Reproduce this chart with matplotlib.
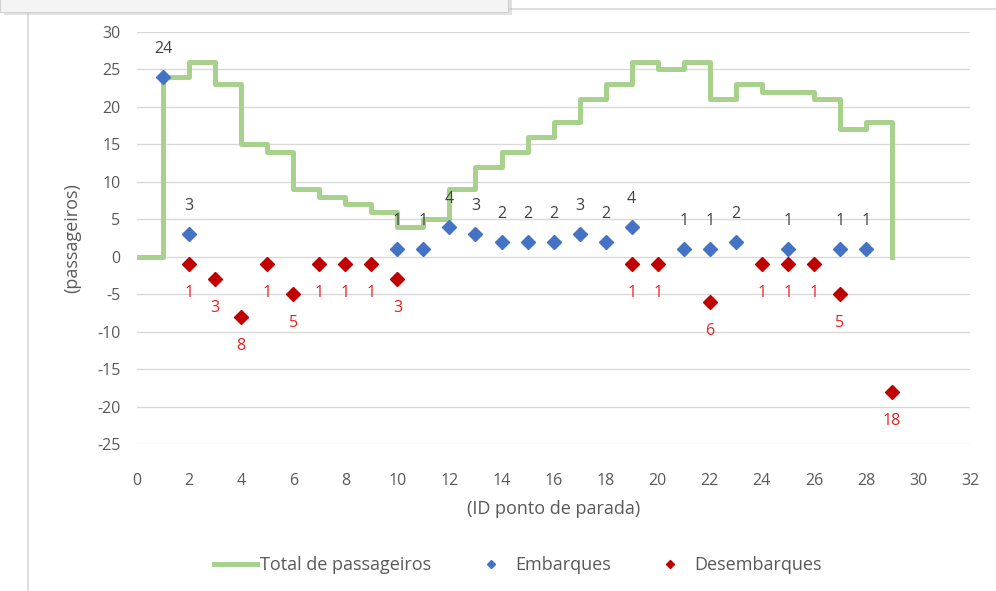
import matplotlib.pyplot as plt
from matplotlib.patches import Rectangle
import numpy as np

# Passenger load along the route: boardings, alightings and running total

paradas_emb = [1, 2, 10, 11, 12, 13, 14, 15, 16, 17, 18, 19, 21, 22, 23, 25, 27, 28]
embarques = [24, 3, 1, 1, 4, 3, 2, 2, 2, 3, 2, 4, 1, 1, 2, 1, 1, 1]

paradas_des = [2, 3, 4, 5, 6, 7, 8, 9, 10, 19, 20, 22, 24, 25, 26, 27, 29]
desembarques = [-1, -3, -8, -1, -5, -1, -1, -1, -3, -1, -1, -6, -1, -1, -1, -5, -18]

paradas_total = list(range(0, 30))
total = [0, 24, 26, 23, 15, 14, 9, 8, 7, 6, 4, 5, 9, 12, 14, 16, 18, 21, 23, 26,
         25, 26, 21, 23, 22, 22, 21, 17, 18, 0]

VERDE = "#A9D18E"
AZUL = "#4472C4"
VINHO = "#C00000"
CINZA_TXT = "#595959"

plt.rcParams['font.family'] = ['Open Sans', 'DejaVu Sans']
plt.rcParams['axes.unicode_minus'] = False

fig = plt.figure(figsize=(9.96, 5.91), dpi=100)
ax = fig.add_axes([0.1376, 0.2487, 0.974 - 0.1376, 0.9459 - 0.2487])

# chart frame + the cut-off box at the top left
fig.patches.append(Rectangle((28 / 996, -0.1), 1.2, 1 - 9 / 591 + 0.1, transform=fig.transFigure,
                             fill=False, edgecolor="#D9D9D9", lw=1.2, zorder=0))
fig.patches.append(Rectangle((4 / 996, 1 - 15 / 591), 508 / 996, 0.1, transform=fig.transFigure,
                             facecolor="#BFBFBF", edgecolor="none", alpha=0.45, zorder=1))
fig.patches.append(Rectangle((0, 1 - 12 / 591), 508 / 996, 0.1, transform=fig.transFigure,
                             facecolor="#F4F4F4", edgecolor="#D0D0D0", lw=0.8, zorder=2))

ax.plot(paradas_total, total, drawstyle="steps-post", color=VERDE, lw=3.6,
        label="Total de passageiros", zorder=2)
ax.plot(paradas_emb, embarques, ls="none", marker="D", ms=7, color=AZUL,
        label="Embarques", zorder=3)
ax.plot(paradas_des, desembarques, ls="none", marker="D", ms=7, color=VINHO,
        label="Desembarques", zorder=3)

for x, v in zip(paradas_emb, embarques):
    ax.annotate(str(v), (x, v), xytext=(0, 20), textcoords="offset points",
                ha="center", va="center", fontsize=11.5, color="#404040")
for x, v in zip(paradas_des, desembarques):
    ax.annotate(str(abs(v)), (x, v), xytext=(0, -21), textcoords="offset points",
                ha="center", va="center", fontsize=11.5, color="#E8201E")

ax.set_xlim(0, 32)
ax.set_ylim(-25, 30)
ax.set_xticks(np.arange(0, 33, 2))
ax.set_yticks(np.arange(-25, 31, 5))
ax.grid(axis="y", color="#D9D9D9", lw=1)
ax.set_axisbelow(True)
for s in ax.spines.values():
    s.set_visible(False)
ax.tick_params(length=0, labelsize=11.5, labelcolor=CINZA_TXT)
ax.tick_params(axis="x", pad=21)
ax.tick_params(axis="y", pad=12)

ax.set_xlabel("(ID ponto de parada)", fontsize=13, color=CINZA_TXT, labelpad=8)
ax.set_ylabel("(passageiros)", fontsize=13, color=CINZA_TXT, labelpad=11)

fig.legend(loc="center", bbox_to_anchor=(0.52, 0.044), ncol=3, frameon=False,
           fontsize=13, labelcolor=CINZA_TXT, handlelength=2.4, columnspacing=2.1,
           markerscale=0.6, handletextpad=0.15)

fig.savefig("out.png", dpi=100)
